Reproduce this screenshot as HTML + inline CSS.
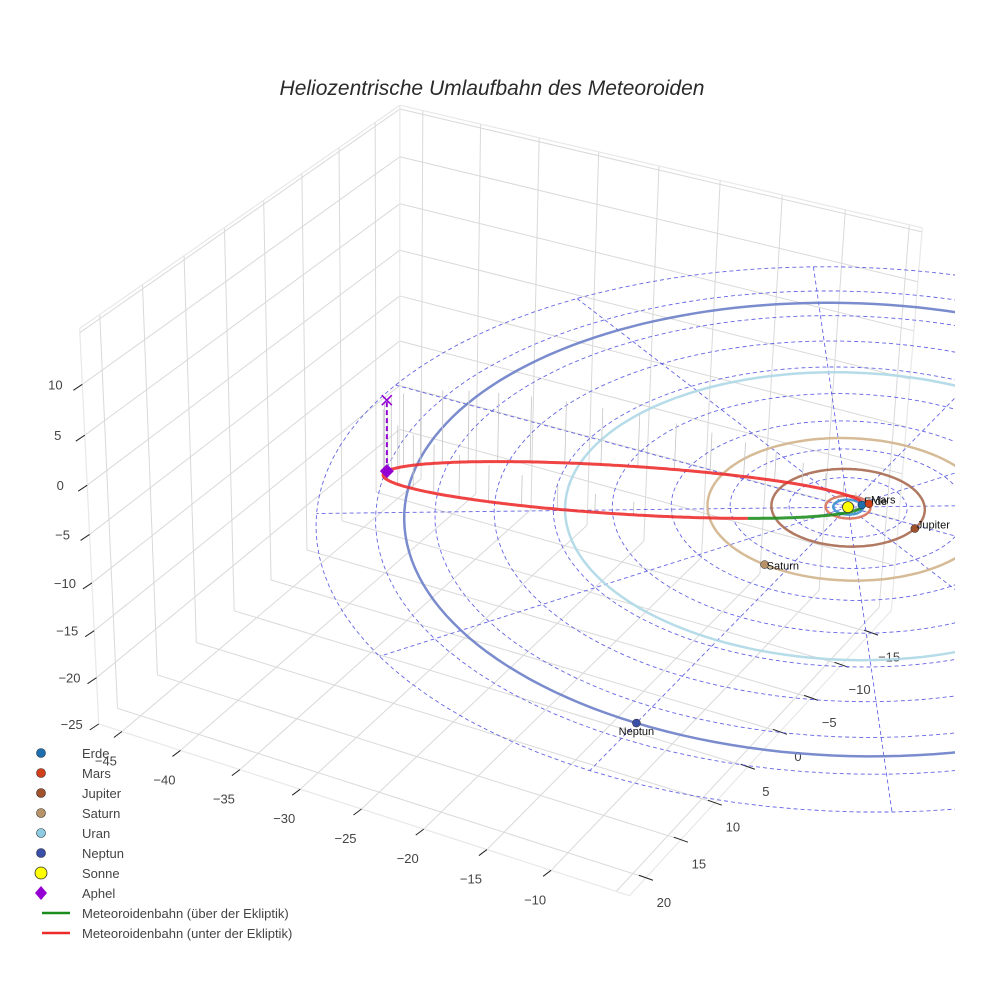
<!DOCTYPE html>
<html><head><meta charset="utf-8"><title>Heliozentrische Umlaufbahn</title>
<style>
html,body{margin:0;padding:0;background:#fff;}
svg{display:block;font-family:"Liberation Sans",Arial,sans-serif;}
</style></head>
<body>
<svg id="chart" width="984" height="984" viewBox="0 0 984 984" xmlns="http://www.w3.org/2000/svg">
<defs><clipPath id="sceneClip"><rect x="0" y="0" width="955" height="984"/></clipPath></defs>
<rect x="0" y="0" width="984" height="984" fill="#fff"/>
<text x="492" y="95" text-anchor="middle" font-size="21" font-style="italic" fill="#2a2a2a">Heliozentrische Umlaufbahn des Meteoroiden</text>
<g id="scene" clip-path="url(#sceneClip)"></g>
<g id="legend" font-size="13" fill="#444">
 <g><circle cx="41" cy="753" r="4.5" fill="#1f6fae" stroke="#234" stroke-width="0.6"/><text x="82" y="758">Erde</text></g>
 <g><circle cx="41" cy="773" r="4.5" fill="#d0401a" stroke="#422" stroke-width="0.6"/><text x="82" y="778">Mars</text></g>
 <g><circle cx="41" cy="793" r="4.5" fill="#a0522d" stroke="#322" stroke-width="0.6"/><text x="82" y="798">Jupiter</text></g>
 <g><circle cx="41" cy="813" r="4.5" fill="#b8936a" stroke="#332" stroke-width="0.6"/><text x="82" y="818">Saturn</text></g>
 <g><circle cx="41" cy="833" r="4.5" fill="#8ecae0" stroke="#234" stroke-width="0.6"/><text x="82" y="838">Uran</text></g>
 <g><circle cx="41" cy="853" r="4.5" fill="#3a4fa8" stroke="#223" stroke-width="0.6"/><text x="82" y="858">Neptun</text></g>
 <g><circle cx="41" cy="873" r="6" fill="#ffff00" stroke="#333" stroke-width="0.8"/><text x="82" y="878">Sonne</text></g>
 <g><path d="M41 886 L47 893 L41 900 L35 893 Z" fill="#9400d3"/><text x="82" y="898">Aphel</text></g>
 <g><line x1="42" y1="913" x2="70" y2="913" stroke="#1a8c1a" stroke-width="2.5"/><text x="82" y="918">Meteoroidenbahn (über der Ekliptik)</text></g>
 <g><line x1="42" y1="933" x2="70" y2="933" stroke="#ee2a2a" stroke-width="2.5"/><text x="82" y="938">Meteoroidenbahn (unter der Ekliptik)</text></g>
</g>
</svg>
<script>
// ---- data ----
const planetNames = ['Erde','Mars','Jupiter','Saturn','Uran','Neptun'];
const planetRadii = [1.0, 1.52, 5.2, 9.54, 19.2, 30.07];
const planetAnglesDeg = [-45, -46, 4.5, 99.5, -20, 90];
const meteorPerihel = 0.95;
const meteorAphel = 36.2;
const aphelDirection = [-35.3, 2.2, -7.4];
const meteorTiltDeg = -15;
const gridRadii = [4, 8, 12, 16, 20, 24, 28, 32, 36];
const gridSpokeAnglesDeg = [0, 30, 60, 90, 120, 150];
const xTicks = [-45, -40, -35, -30, -25, -20, -15, -10];
const yTicks = [-15, -10, -5, 0, 5, 10, 15, 20];
const zTicks = [-25, -20, -15, -10, -5, 0, 5, 10];
const xRange = [-47, -4];
const yRange = [-18.5, 22.3];
const zRange = [-25, 15.4];

// ---- styles ----
const planetOrbitColors = ['#3a8fd0','#d9705a','#a86a50','#d2b48c','#add8e6','#6b80c8'];
const planetFill = ['#1f6fae','#d0401a','#a0522d','#b8936a','#8ecae0','#3a4fa8'];

// ---- camera fit (layout calibration) ----
const calib = [
 [-47,22.3,-25,99,726],[-4,22.3,-25,619,895],[-4,-18.5,-25,893,613],
 [-47,22.3,15.4,80,333],[-47,-18.5,15.4,400,102],[-4,-18.5,15.4,912,231],
 [0,0,0,855,507],[0,0,0,855,507],[0,0,0,855,507],
 [-31.18,18,0,312,507],[-4,0,-25,776,729],[-45,22.3,-25,123,732],[-30,22.3,-25,305,790]
];
function solveCam(){
  const N=11, A=[], b=[];
  calib.forEach(c=>{
    const x=c[0]/30,y=c[1]/30,z=c[2]/30,u=(c[3]-492)/492,v=(c[4]-492)/492;
    A.push([x,y,z,1,0,0,0,0,-u*x,-u*y,-u*z]); b.push(u);
    A.push([0,0,0,0,x,y,z,1,-v*x,-v*y,-v*z]); b.push(v);
  });
  const M=[];for(let i=0;i<N;i++){M.push(new Array(N+1).fill(0));}
  for(let r=0;r<A.length;r++){for(let i=0;i<N;i++){for(let j=0;j<N;j++)M[i][j]+=A[r][i]*A[r][j];M[i][N]+=A[r][i]*b[r];}}
  for(let i=0;i<N;i++){let p=i;for(let k=i+1;k<N;k++)if(Math.abs(M[k][i])>Math.abs(M[p][i]))p=k;
    const t=M[i];M[i]=M[p];M[p]=t;
    for(let k=0;k<N;k++){if(k===i)continue;const f=M[k][i]/M[i][i];for(let j=i;j<=N;j++)M[k][j]-=f*M[i][j];}}
  return M.map((r,i)=>r[N]/r[i]);
}
const cam=solveCam();
function P(X,Y,Z){
  const x=X/30,y=Y/30,z=Z/30;
  const d=cam[8]*x+cam[9]*y+cam[10]*z+1;
  const u=(cam[0]*x+cam[1]*y+cam[2]*z+cam[3])/d;
  const v=(cam[4]*x+cam[5]*y+cam[6]*z+cam[7])/d;
  return [492+492*u,492+492*v];
}
const NS='http://www.w3.org/2000/svg';
const scene=document.getElementById('scene');
function mk(tag,attrs,parent){const e=document.createElementNS(NS,tag);for(const k in attrs)e.setAttribute(k,attrs[k]);(parent||scene).appendChild(e);return e;}
function pathOf(pts){return pts.map((p,i)=>(i?'L':'M')+p[0].toFixed(1)+' '+p[1].toFixed(1)).join('');}
function line3(a,b,attrs){const p=P(a[0],a[1],a[2]),q=P(b[0],b[1],b[2]);return mk('line',Object.assign({x1:p[0],y1:p[1],x2:q[0],y2:q[1]},attrs));}

// ---- box grid ----
const gridStyle={stroke:'#d9d9d9','stroke-width':1};
const edgeStyle={stroke:'#e8e8e8','stroke-width':1.2};
const [x0,x1]=xRange,[y0,y1]=yRange,[z0,z1]=zRange;
xTicks.concat([-5]).forEach(X=>{
  let e=line3([X,y0,z0],[X,y1,z0],gridStyle);
  
  
  e=line3([X,y0,z0],[X,y0,z1],gridStyle);
  
  
});
yTicks.forEach(Y=>{
  let e=line3([x0,Y,z0],[x1,Y,z0],gridStyle);
  
  
  e=line3([x0,Y,z0],[x0,Y,z1],gridStyle);
  
  
});
zTicks.concat([15]).forEach(Z=>{
  if(Z===z0)return;
  let e=line3([x0,y0,Z],[x0,y1,Z],gridStyle);
  
  
  e=line3([x0,y0,Z],[x1,y0,Z],gridStyle);
  
  
});
[[[x0,y1,z0],[x1,y1,z0]],[[x1,y1,z0],[x1,y0,z0]],[[x0,y1,z0],[x0,y1,z1]],[[x0,y1,z1],[x0,y0,z1]],[[x0,y0,z1],[x1,y0,z1]],[[x1,y0,z1],[x1,y0,z0]],[[x0,y0,z0],[x0,y0,z1]]].forEach(s=>{
  const e=line3(s[0],s[1],edgeStyle);
  
  
});

// ---- ticks & labels ----
const tickStyle={stroke:'#222','stroke-width':1};
xTicks.forEach(X=>{
  const p=P(X,y1,z0);
  const t=mk('line',Object.assign({x1:p[0],y1:p[1],x2:p[0]-8,y2:p[1]+6},tickStyle));
  
  
  const l=mk('text',{x:p[0]-16,y:p[1]+34,'text-anchor':'middle','font-size':13,fill:'#444'});
  l.textContent=String(X).replace('-','\u2212');
  
  
});
yTicks.forEach(Y=>{
  const p=P(x1,Y,z0);
  const t=mk('line',Object.assign({x1:p[0]-7,y1:p[1]-2.5,x2:p[0]+7,y2:p[1]+2.5},tickStyle));
  
  
  const l=mk('text',{x:p[0]+18,y:p[1]+29,'text-anchor':'middle','font-size':13,fill:'#444'});
  l.textContent=String(Y).replace('-','\u2212');
  
  
});
zTicks.forEach(Z=>{
  const p=P(x0,y1,Z);
  const t=mk('line',Object.assign({x1:p[0],y1:p[1],x2:p[0]-9,y2:p[1]+6},tickStyle));
  
  
  const l=mk('text',{x:p[0]-27,y:p[1]+5,'text-anchor':'middle','font-size':13,fill:'#444'});
  l.textContent=String(Z).replace('-','\u2212');
  
  
});

// ---- ecliptic polar grid ----
const dash={fill:'none',stroke:'#4a4ae0','stroke-width':0.9,'stroke-dasharray':'4,3','stroke-opacity':0.85};
gridRadii.forEach(r=>{
  const pts=[];for(let a=0;a<=360;a+=3){const t=a*Math.PI/180;pts.push(P(r*Math.cos(t),r*Math.sin(t),0));}
  const e=mk('path',Object.assign({d:pathOf(pts)},dash));
  
  
});
const rMax=Math.max.apply(null,gridRadii);
gridSpokeAnglesDeg.forEach(a=>{
  const t=a*Math.PI/180;
  const e=line3([-rMax*Math.cos(t),-rMax*Math.sin(t),0],[rMax*Math.cos(t),rMax*Math.sin(t),0],dash);
  
  
});

// ---- planet orbits ----
planetRadii.forEach((r,i)=>{
  const pts=[];for(let a=0;a<=360;a+=2){const t=a*Math.PI/180;pts.push(P(r*Math.cos(t),r*Math.sin(t),0));}
  const e=mk('path',{d:pathOf(pts),fill:'none',stroke:planetOrbitColors[i],'stroke-width':2.5,'stroke-opacity':0.9});
  
  
});

// ---- meteoroid orbit ----
const dl=Math.hypot(aphelDirection[0],aphelDirection[1],aphelDirection[2]);
const d=aphelDirection.map(v=>v/dl);
let w0=[d[1],-d[0],0];const wl=Math.hypot(w0[0],w0[1]);w0=w0.map(v=>v/wl);
const dxw=[d[1]*w0[2]-d[2]*w0[1],d[2]*w0[0]-d[0]*w0[2],d[0]*w0[1]-d[1]*w0[0]];
const ph=meteorTiltDeg*Math.PI/180;
const w=[0,1,2].map(k=>Math.cos(ph)*w0[k]+Math.sin(ph)*dxw[k]);
const semiA=(meteorAphel+meteorPerihel)/2, semiB=Math.sqrt(meteorAphel*meteorPerihel), cOff=(meteorAphel-meteorPerihel)/2;
const orbitPts=[];
for(let i=0;i<=360;i++){const E=i*Math.PI/180;orbitPts.push([0,1,2].map(k=>d[k]*(cOff+semiA*Math.cos(E))+w[k]*semiB*Math.sin(E)));}
orbitPts.forEach((p,i)=>{
  if(i%9!==4)return;
  const e=line3(p,[p[0],p[1],0],{stroke:'#c4c4c4','stroke-width':0.8});
  
  
});
let run=[orbitPts[0]],above=orbitPts[0][2]>=0;
function flush(){
  const e=mk('path',{d:pathOf(run.map(p=>P(p[0],p[1],p[2]))),fill:'none',stroke:above?'#1a8c1a':'#ee2a2a','stroke-width':3,'stroke-opacity':0.88,'stroke-linejoin':'round'});
  
  
}
for(let i=1;i<orbitPts.length;i++){
  const p=orbitPts[i],ab=p[2]>=0;
  if(ab!==above){run.push(p);flush();run=[p];above=ab;}else run.push(p);
}
flush();

const aph=d.map(v=>v*meteorAphel);
const pa=P(aph[0],aph[1],aph[2]),pa0=P(aph[0],aph[1],0);
let e=mk('line',{x1:pa[0],y1:pa[1],x2:pa0[0],y2:pa0[1],stroke:'#9400d3','stroke-width':2,'stroke-dasharray':'5,3'});


e=mk('path',{d:`M${pa0[0]-5} ${pa0[1]-5}L${pa0[0]+5} ${pa0[1]+5}M${pa0[0]+5} ${pa0[1]-5}L${pa0[0]-5} ${pa0[1]+5}`,stroke:'#9400d3','stroke-width':1.6,fill:'none'});


e=mk('path',{d:`M${pa[0]} ${pa[1]-7}L${pa[0]+7} ${pa[1]}L${pa[0]} ${pa[1]+7}L${pa[0]-7} ${pa[1]}Z`,fill:'#9400d3'});



// ---- planets ----
planetRadii.forEach((r,i)=>{
  const t=planetAnglesDeg[i]*Math.PI/180;
  const p=P(r*Math.cos(t),r*Math.sin(t),0);
  const c=mk('circle',{cx:p[0],cy:p[1],r:4,fill:planetFill[i],stroke:'#222','stroke-width':0.5});
  
  
  const center=planetNames[i]==='Neptun';
  const l=mk('text',{x:center?p[0]:p[0]+2,y:center?p[1]+12:p[1]+(planetNames[i]==='Saturn'?5:0),'text-anchor':center?'middle':'start','font-size':11,fill:'#111'});
  l.textContent=planetNames[i];
  
  
});
const ps=P(0,0,0);
e=mk('circle',{cx:ps[0],cy:ps[1],r:5.5,fill:'#ffff00',stroke:'#333','stroke-width':0.8});


</script>
</body></html>
